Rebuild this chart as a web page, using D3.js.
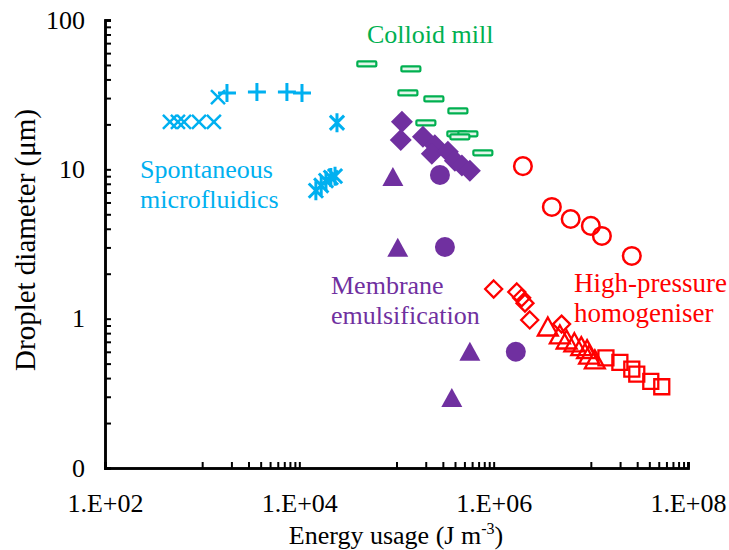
<!DOCTYPE html>
<html>
<head>
<meta charset="utf-8">
<script src="https://cdn.jsdelivr.net/npm/d3@7"></script>
<style>
  body { margin: 0; background: #fff; }
  svg text { font-family: "Liberation Serif", Tinos, "Times New Roman", "Noto Serif", "DejaVu Serif", serif; }
</style>
</head>
<body>
<svg id="chart" width="729" height="550"></svg>
<script>
// Spontaneous microfluidics (blue)
const smCrossX = [466, 563, 650, 927, 1320, 1455];
const smCrossY = [20.8, 20.8, 20.8, 20.8, 20.8, 30.5];
const smPlusX = [1800, 3660, 7450, 10650];
const smPlusY = [32.5, 33, 33, 32.5];
const smStarX = [14800, 16800, 18800, 21100, 23300, 24400];
const smStarY = [7.2, 7.8, 8.4, 8.8, 9.0, 20.5];

// Colloid mill (green)
const cmX = [49500, 140600, 131000, 242500, 428500, 200600, 418000, 543000, 449000, 774000];
const cmY = [50.8, 47.0, 32.5, 29.6, 24.6, 20.5, 17.3, 17.3, 16.5, 12.9];

// Membrane emulsification (purple)
const meDiamondX = [113700, 110600, 187000, 248000, 231000, 338000, 399000, 471000, 569000];
const meDiamondY = [20.8, 15.7, 16.5, 14.5, 12.7, 13.1, 11.4, 10.6, 9.8];
const meTriX = [91800, 103000, 569000, 371000];
const meTriY = [8.9, 2.98, 0.60, 0.294];
const meCircleX = [280000, 315000, 1690000];
const meCircleY = [9.16, 3.02, 0.60];

// High-pressure homogeniser (red)
const hpCircleX = [2.0e6, 3.97e6, 6.2e6, 1.0e7, 1.3e7, 2.64e7];
const hpCircleY = [10.5, 5.6, 4.65, 4.18, 3.58, 2.63];
const hpDiamondX = [1.0e6, 1.73e6, 1.94e6, 2.1e6, 2.35e6, 5.0e6];
const hpDiamondY = [1.58, 1.51, 1.38, 1.27, 0.98, 0.92];
const hpTriX = [3.61e6, 4.8e6, 5.64e6, 6.77e6, 7.97e6, 9.15e6, 9.6e6, 1.1e7];
const hpTriY = [0.88, 0.78, 0.72, 0.69, 0.65, 0.62, 0.57, 0.53];
const hpSquareX = [1.43e7, 1.99e7, 2.64e7, 2.97e7, 4.14e7, 5.37e7];
const hpSquareY = [0.546, 0.51, 0.46, 0.425, 0.38, 0.35];

// Axis ticks
const xMajor = [1e2, 1e4, 1e6, 1e8];
const xMajorLabels = ["1.E+02", "1.E+04", "1.E+06", "1.E+08"];
const yMajor = [0.1, 1, 10, 100];
const yMajorLabels = ["0", "1", "10", "100"];

const colors = { blue: '#00B0F0', green: '#00B050', purple: '#7030A0', red: '#FF0000' };

const svg = d3.select('#chart');
const x = d3.scaleLog().domain([1e2, 1e8]).range([105, 688]);
const y = d3.scaleLog().domain([0.1, 100]).range([468, 20]);

// minor ticks: x uses base-100 style (1e3..9e3 etc), y uses 2..9 per decade
const xMinor = [];
[3, 5, 7].forEach(p => { for (let k = 1; k <= 9; k++) xMinor.push(k * Math.pow(10, p)); });
const yMinor = [];
[-1, 0, 1].forEach(p => { for (let k = 2; k <= 9; k++) yMinor.push(k * Math.pow(10, p)); });

function styleAxis(g) {
    g.attr('font-family', null).attr('font-size', null);
    g.select('.domain').attr('stroke', '#000').attr('stroke-width', 2.5);
    g.selectAll('.tick line').attr('stroke', '#000').attr('stroke-width', 2);
    g.selectAll('.tick text').attr('fill', '#000').style('font-size', '26px');
}

svg.append('g').attr('transform', 'translate(0,468)')
    .call(d3.axisBottom(x).tickValues(xMinor).tickSize(-6).tickFormat(''))
    .call(styleAxis);
svg.append('g').attr('transform', 'translate(0,468)')
    .call(d3.axisBottom(x).tickValues(xMajor).tickSize(-6).tickPadding(26)
        .tickFormat((d, i) => xMajorLabels[i]))
    .call(styleAxis);

svg.append('g').attr('transform', 'translate(105,0)')
    .call(d3.axisLeft(y).tickValues(yMinor).tickSize(-6).tickFormat(''))
    .call(styleAxis);
svg.append('g').attr('transform', 'translate(105,0)')
    .call(d3.axisLeft(y).tickValues(yMajor).tickSize(-6).tickPadding(20)
        .tickFormat((d, i) => yMajorLabels[i]))
    .call(styleAxis);

// axis titles
svg.append('text')
    .attr('x', 396).attr('y', 544)
    .attr('text-anchor', 'middle')
    .style('font-size', '26px')
    .html('Energy usage (J m<tspan dy="-10" style="font-size:16px">-3</tspan><tspan dy="10">)</tspan>');

svg.append('text')
    .attr('transform', 'translate(35,240) rotate(-90)')
    .attr('text-anchor', 'middle')
    .style('font-size', '29px')
    .text('Droplet diameter (μm)');

// marker shapes
const shapes = {
    cross: s => `M${-s},${-s}L${s},${s}M${-s},${s}L${s},${-s}`,
    plus: s => `M${-s},0L${s},0M0,${-s}L0,${s}`,
    star: s => `M${-s*0.75},${-s*0.75}L${s*0.75},${s*0.75}M${-s*0.75},${s*0.75}L${s*0.75},${-s*0.75}M0,${-s}L0,${s}`,
    diamond: s => `M0,${-s}L${s},0L0,${s}L${-s},0Z`,
    triangle: s => `M0,${-s}L${s*1.05},${s*0.9}L${-s*1.05},${s*0.9}Z`,
    square: s => `M${-s},${-s}L${s},${-s}L${s},${s}L${-s},${s}Z`
};

function drawSeries(xs, ys, opts) {
    const pts = xs.map((v, i) => ({ x: v, y: ys[i] }));
    const g = svg.append('g');
    if (opts.shape === 'circle') {
        g.selectAll('circle').data(pts).enter().append('circle')
            .attr('cx', d => x(d.x)).attr('cy', d => y(d.y))
            .attr('r', opts.size)
            .attr('fill', opts.fill).attr('stroke', opts.stroke || 'none')
            .attr('stroke-width', opts.sw || 0);
    } else if (opts.shape === 'rect') {
        g.selectAll('rect').data(pts).enter().append('rect')
            .attr('x', d => x(d.x) - 9.5).attr('y', d => y(d.y) - 2.5)
            .attr('width', 19).attr('height', 5).attr('rx', 1)
            .attr('fill', '#e4f5ea').attr('stroke', opts.stroke)
            .attr('stroke-width', opts.sw);
    } else {
        g.selectAll('path').data(pts).enter().append('path')
            .attr('transform', d => `translate(${x(d.x)},${y(d.y)})`)
            .attr('d', shapes[opts.shape](opts.size))
            .attr('fill', opts.fill || 'none').attr('stroke', opts.stroke || 'none')
            .attr('stroke-width', opts.sw || 0)
            .attr('stroke-linejoin', 'miter');
    }
}

// blue
drawSeries(smCrossX, smCrossY, { shape: 'cross', size: 7, stroke: colors.blue, sw: 2.5 });
drawSeries(smPlusX, smPlusY, { shape: 'plus', size: 9, stroke: colors.blue, sw: 3 });
drawSeries(smStarX, smStarY, { shape: 'star', size: 9.5, stroke: colors.blue, sw: 3 });
// green
drawSeries(cmX, cmY, { shape: 'rect', stroke: colors.green, sw: 2.2 });
// purple
drawSeries(meDiamondX, meDiamondY, { shape: 'diamond', size: 11, fill: colors.purple });
drawSeries(meTriX, meTriY, { shape: 'triangle', size: 10, fill: colors.purple });
drawSeries(meCircleX, meCircleY, { shape: 'circle', size: 10, fill: colors.purple });
// red
drawSeries(hpCircleX, hpCircleY, { shape: 'circle', size: 8.8, fill: 'none', stroke: colors.red, sw: 2.5 });
drawSeries(hpDiamondX, hpDiamondY, { shape: 'diamond', size: 8.5, stroke: colors.red, sw: 2.3 });
drawSeries(hpTriX, hpTriY, { shape: 'triangle', size: 9.5, stroke: colors.red, sw: 2.3 });
drawSeries(hpSquareX, hpSquareY, { shape: 'square', size: 7.5, stroke: colors.red, sw: 2.3 });

// annotations
const notes = [
    { lines: ['Colloid mill'], x: 367, y: 43, color: colors.green, size: 26 },
    { lines: ['Spontaneous', 'microfluidics'], x: 140, y: 178, color: colors.blue, size: 26 },
    { lines: ['Membrane', 'emulsification'], x: 331, y: 294, color: colors.purple, size: 26 },
    { lines: ['High-pressure', 'homogeniser'], x: 574, y: 292, color: colors.red, size: 27 }
];
notes.forEach(n => {
    n.lines.forEach((t, i) => {
        svg.append('text')
            .attr('x', n.x).attr('y', n.y + i * 30)
            .attr('fill', n.color)
            .style('font-size', n.size + 'px')
            .text(t);
    });
});
</script>
</body>
</html>
